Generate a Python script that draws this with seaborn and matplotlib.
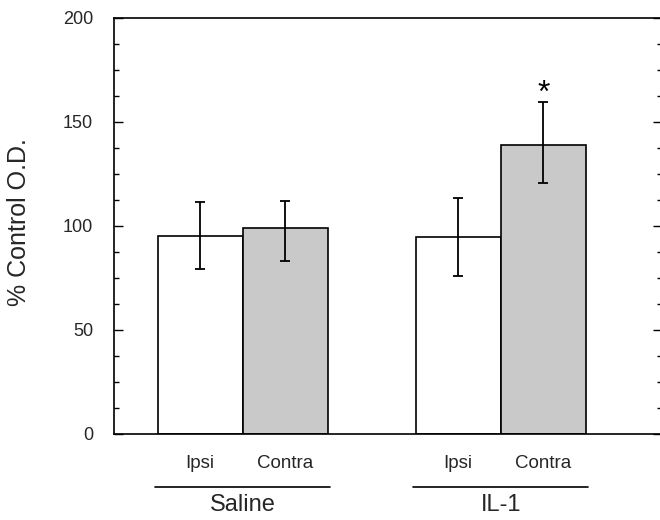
import numpy as np
import pandas as pd
import matplotlib
matplotlib.use('Agg')
import matplotlib.pyplot as plt
import matplotlib.transforms as mtransforms
from matplotlib.ticker import MultipleLocator
import seaborn as sns

# values (% control optical density)
groups = ['Saline', 'IL-1']
sides = ['Ipsi', 'Contra']
saline_mean = [95.0, 99.2]
il1_mean = [94.6, 138.9]
saline_low = [79.5, 83.3]
saline_high = [111.5, 112.0]
il1_low = [75.8, 120.5]
il1_high = [113.3, 159.5]
yticks = [0, 50, 100, 150, 200]


def build_table():
    rows = []
    for g, means, lows, highs in [('Saline', saline_mean, saline_low, saline_high),
                                  ('IL-1', il1_mean, il1_low, il1_high)]:
        for s, m, lo, hi in zip(sides, means, lows, highs):
            rows.append({'group': g, 'side': s, 'od': m, 'low': lo, 'high': hi})
    return pd.DataFrame(rows)


def main():
    sns.set_theme(style='ticks')
    plt.rcParams['font.family'] = ['Liberation Sans', 'DejaVu Sans']

    df = build_table()

    fig = plt.figure(figsize=(6.6, 5.2), dpi=100)
    ax = fig.add_axes([114 / 660, 86 / 520, 548 / 660, 416 / 520])

    sns.barplot(data=df, x='group', y='od', hue='side', order=groups,
                hue_order=sides, width=0.66, errorbar=None, legend=False,
                palette={'Ipsi': 'white', 'Contra': '#c9c9c9'},
                edgecolor='black', linewidth=1.2, saturation=1, ax=ax)

    # error bars at the bar centres, ordered left to right
    bars = sorted(ax.patches, key=lambda p: p.get_x())
    xs = [p.get_x() + p.get_width() / 2 for p in bars]
    means = np.array(saline_mean + il1_mean)
    lows = np.array(saline_low + il1_low)
    highs = np.array(saline_high + il1_high)
    ax.errorbar(xs, means, yerr=[means - lows, highs - means], fmt='none',
                ecolor='black', elinewidth=1.3, capsize=3.6, capthick=1.3, zorder=5)

    # significance marker over IL-1 contra
    ax.text(xs[3], 163.5, '*', ha='center', va='center', fontsize=23, color='black')

    ax.set_xlim(-0.499, 1.625)
    ax.set_ylim(0, 200)
    ax.set_yticks(yticks)
    ax.yaxis.set_minor_locator(MultipleLocator(12.5))
    ax.set_xticks([])
    ax.set_xlabel('')
    ax.tick_params(axis='y', which='both', direction='in', left=True, right=True,
                   labelright=False, labelsize=13, pad=15, width=1.0, color='black')
    ax.tick_params(axis='y', which='major', length=6.5)
    ax.tick_params(axis='y', which='minor', length=3.6)
    for sp in ax.spines.values():
        sp.set_visible(True)
        sp.set_linewidth(1.2)
        sp.set_color('black')

    ax.set_ylabel('% Control O.D.', fontsize=18)
    ax.yaxis.set_label_coords(-0.152, 0.51)

    # category labels below the axis
    trans = mtransforms.blended_transform_factory(ax.transData, ax.transAxes)
    for x, s in zip(xs, sides * 2):
        ax.text(x, -0.0704, s, ha='center', va='center', fontsize=13.5, transform=trans)
    for i, g in enumerate(groups):
        ax.plot([i - 0.34, i + 0.34], [-0.1267, -0.1267], color='black', lw=1.2,
                transform=trans, clip_on=False)
        ax.text(i, -0.171, g, ha='center', va='center', fontsize=17, transform=trans)

    fig.savefig('out.png', dpi=100)
    plt.close(fig)


if __name__ == '__main__':
    main()
